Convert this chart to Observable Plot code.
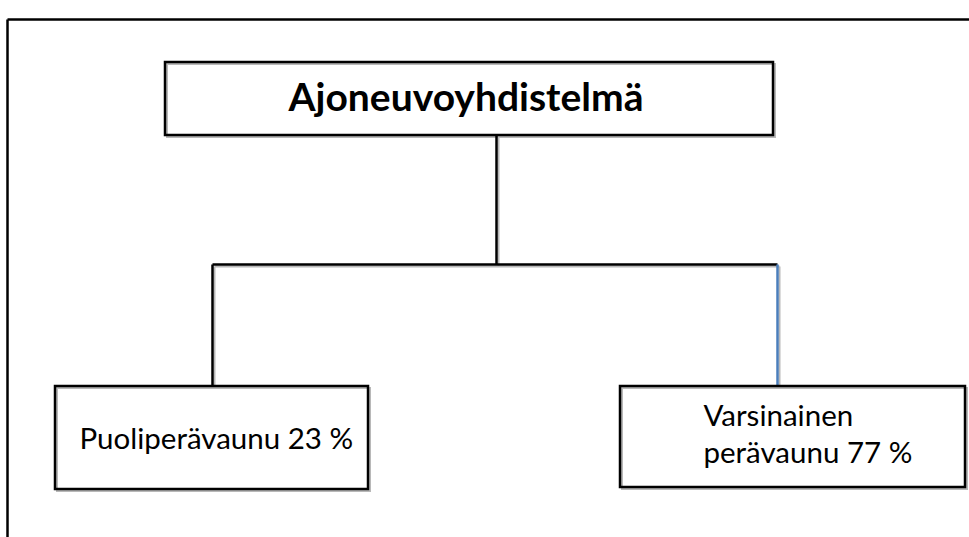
<!DOCTYPE html>
<html>
<head>
<meta charset="utf-8">
<script src="https://cdn.jsdelivr.net/npm/d3@7"></script>
<script src="https://cdn.jsdelivr.net/npm/@observablehq/plot@0.6"></script>
<style>
  html, body { margin: 0; padding: 0; background: #fff; }
  #chart svg { display: block; }
</style>
</head>
<body>
<div id="chart"></div>
<script>
// ---- data ----
const rootLabel = "Ajoneuvoyhdistelmä";
const childNames = [["Puoliperävaunu"], ["Varsinainen", "perävaunu"]];
const childShares = [23, 77];

// ---- layout (pixel space, used through identity-like linear scales) ----
const W = 969, H = 537;
const frame = {x: 7, y: 19};
const rootBox = {x1: 165, x2: 773, y1: 62, y2: 135, stemX: 496, textX: 288, baseline: 110};
const busY = 264;
const childBoxes = [
  {x1: 55, x2: 368, y1: 386, y2: 489, stemX: 212, textX: 79, baseline: 448, stemColor: "#000"},
  {x1: 620, x2: 965, y1: 386, y2: 487, stemX: 777, textX: 703, baseline: 462, stemColor: "#4a7ebb"}
];

const children = childNames.map((parts, i) => {
  const words = parts.slice();
  words[words.length - 1] = words[words.length - 1] + " " + childShares[i] + " %";
  return {...childBoxes[i], label: words.join("\n")};
});

const links = [
  {x1: rootBox.stemX, y1: rootBox.y2, x2: rootBox.stemX, y2: busY, c: "#000"},
  {x1: children[0].stemX, y1: busY, x2: children[1].stemX, y2: busY, c: "#000"},
  ...children.map(c => ({x1: c.stemX, y1: busY, x2: c.stemX, y2: c.y1, c: c.stemColor}))
];
const frameLines = [
  {x1: frame.x, y1: frame.y, x2: W + 5, y2: frame.y},
  {x1: frame.x, y1: frame.y, x2: frame.x, y2: H + 5}
];
const boxes = [{...rootBox}, ...children];
const sh = 2;

const chart = Plot.plot({
  width: W, height: H,
  margin: 0,
  x: {domain: [0, W], axis: null},
  y: {domain: [0, H], reverse: true, axis: null},
  marks: [
    // shadows
    Plot.link(links, {x1: d => d.x1 + sh, y1: d => d.y1 + sh, x2: d => d.x2 + sh, y2: d => d.y2 + sh, stroke: "#b8b8b8", strokeWidth: 2}),
    Plot.rect(boxes, {x1: d => d.x1 + sh, x2: d => d.x2 + sh, y1: d => d.y1 + sh, y2: d => d.y2 + sh, fill: "none", stroke: "#b8b8b8", strokeWidth: 2}),
    // frame
    Plot.link(frameLines, {x1: "x1", y1: "y1", x2: "x2", y2: "y2", stroke: "#000", strokeWidth: 2.5}),
    // connectors
    Plot.link(links, {x1: "x1", y1: "y1", x2: "x2", y2: "y2", stroke: d => d.c, strokeWidth: 2.5}),
    // boxes
    Plot.rect(boxes, {x1: "x1", x2: "x2", y1: "y1", y2: "y2", fill: "none", stroke: "#000", strokeWidth: 2.5}),
    // texts
    Plot.text([rootLabel], {x: () => rootBox.textX, y: () => rootBox.baseline, text: d => d, textAnchor: "start", lineAnchor: "bottom",
      fontFamily: "Lato", fontWeight: "bold", fontSize: 39, fill: "#000"}),
    Plot.text(children, {x: "textX", y: "baseline", text: "label", textAnchor: "start", lineAnchor: "bottom",
      fontFamily: "Lato", fontSize: 29.5, lineHeight: 1.25, fill: "#000"})
  ]
});
document.getElementById("chart").appendChild(chart);
</script>
</body>
</html>
